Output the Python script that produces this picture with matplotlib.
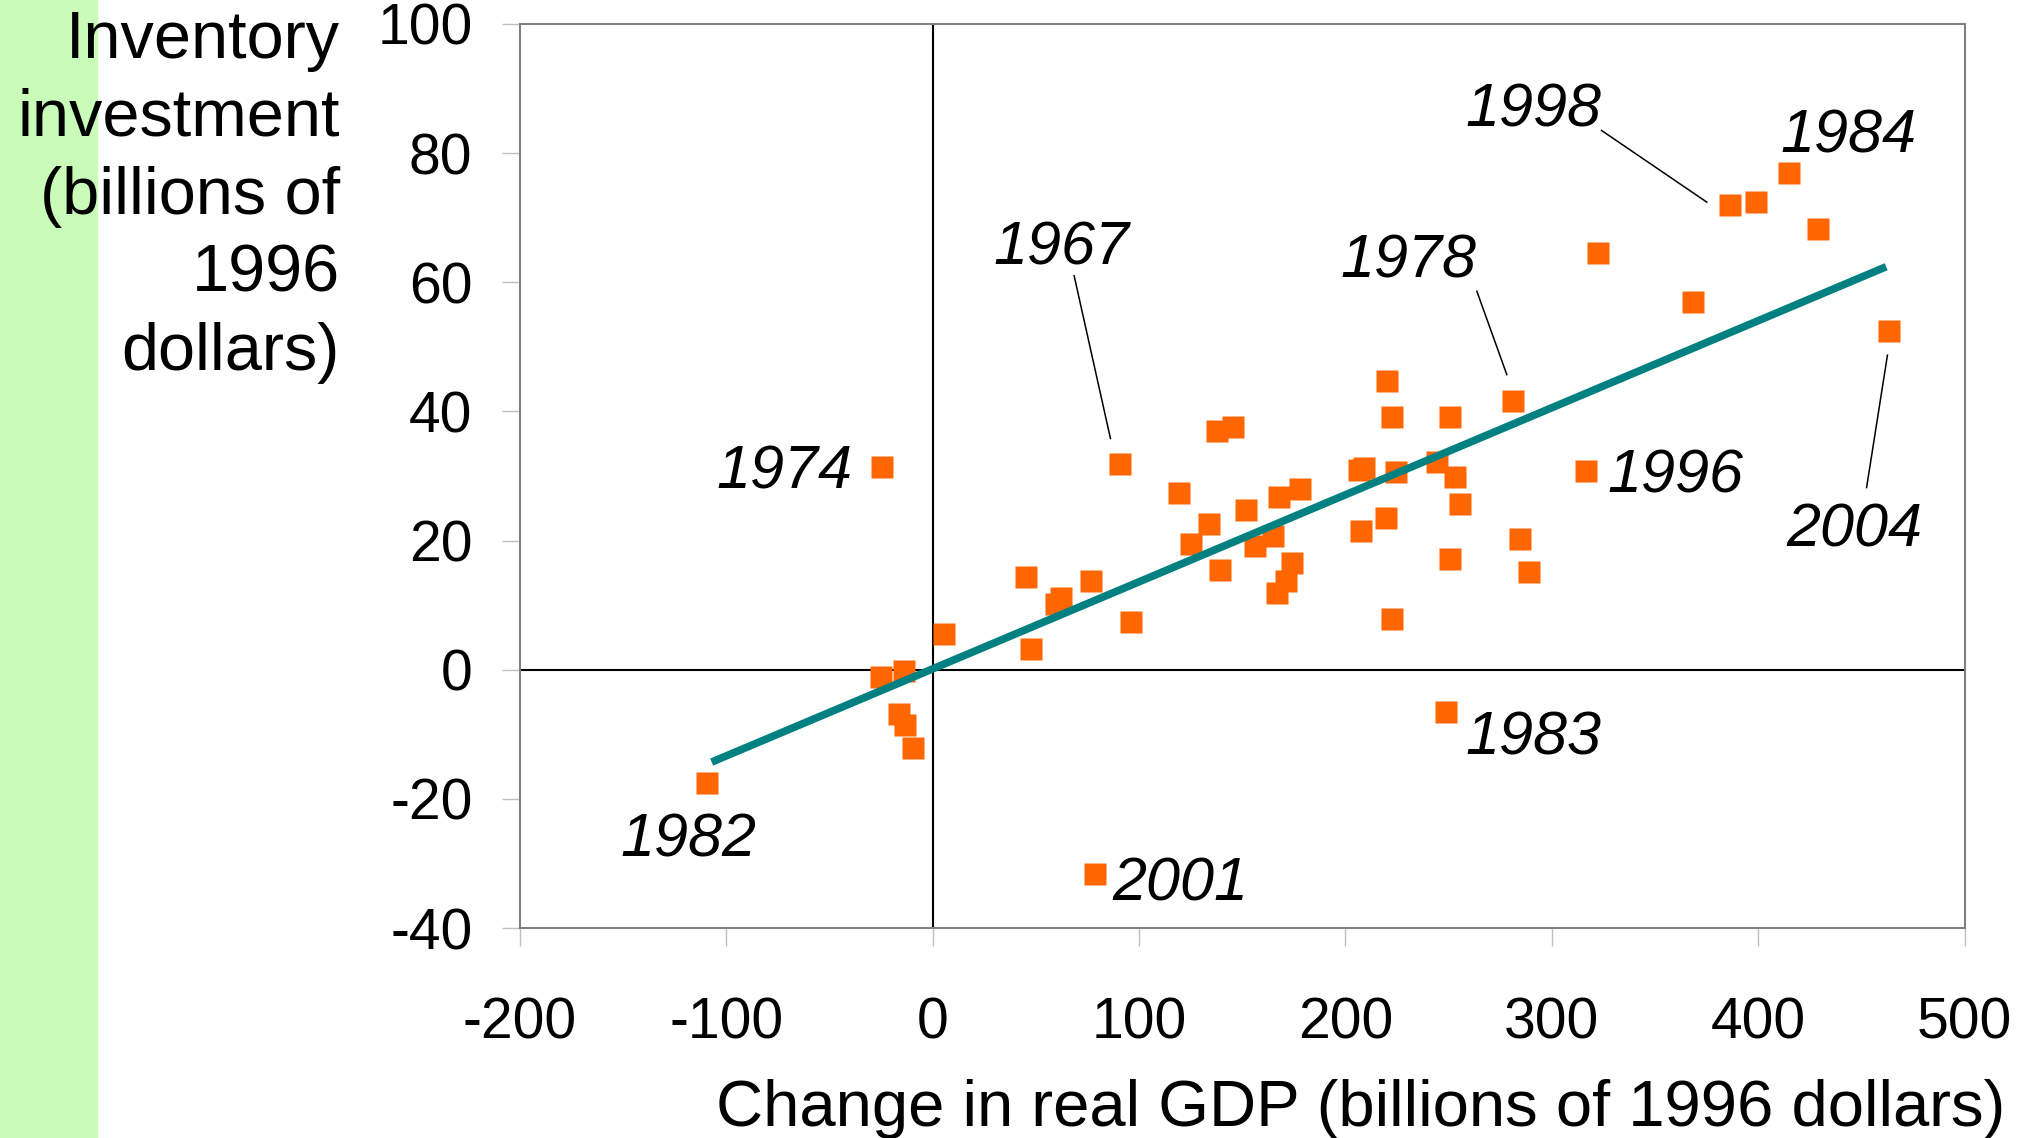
import matplotlib.pyplot as plt

plt.rcParams['font.family'] = ['Liberation Sans', 'DejaVu Sans']
plt.rcParams['axes.unicode_minus'] = False

# change in real GDP (x) and inventory investment (y), billions of 1996 dollars
gdp_change = [-24.5, 90.6, -109.5, 78.7, 248.6, 386.4, 399.0, 414.7, 429.2, 322.2,
              368.2, 463.2, 281.3, 220.3, 222.8, 250.5, 316.6, 206.4, 209.0, 224.7,
              244.2, 253.0, 255.5, 207.7, 219.6, 250.5, 284.5, 288.9, 222.8, 137.8,
              145.4, 119.6, 125.2, 134.0, 151.7, 139.1, 156.0, 164.9, 168.0, 178.1,
              174.3, 171.2, 166.8, 45.3, 62.3, 59.8, 76.8, 96.3, 47.8, 5.7,
              -25.2, -13.8, -16.4, -13.2, -9.4]
inv_invest = [31.4, 31.8, -17.5, -31.6, -6.6, 72.0, 72.4, 76.9, 68.2, 64.6,
              56.9, 52.5, 41.6, 44.7, 39.2, 39.2, 30.8, 31.0, 31.2, 30.6,
              32.2, 29.8, 25.6, 21.5, 23.5, 17.1, 20.3, 15.1, 7.8, 37.0,
              37.6, 27.4, 19.5, 22.5, 24.7, 15.5, 19.1, 20.7, 26.8, 28.0,
              16.5, 13.7, 11.9, 14.3, 11.1, 10.1, 13.7, 7.4, 3.2, 5.6,
              -1.2, -0.2, -6.8, -8.5, -12.1]

# fitted line end points
trend_x = [-107, 462]
trend_y = [-14.3, 62.4]

# year labels: text, x, baseline y
years = ['1998', '1984', '1967', '1978', '1974', '1996', '2004', '1983', '1982', '2001']
year_x = [291.2, 443.7, 62.3, 230.7, -71.7, 360.0, 446.8, 291.2, -118.3, 120.2]
year_y = [84.1, 80.1, 62.8, 60.8, 28.0, 27.4, 19.1, -13.1, -29.0, -35.8]

# leader lines: (x0, y0, x1, y1)
leaders = [(324.1, 83.5, 375.1, 72.4),
           (68.6, 61.0, 86.2, 35.8),
           (263.7, 58.6, 278.2, 45.7),
           (452.5, 28.2, 462.6, 48.7)]

xticks = [-200, -100, 0, 100, 200, 300, 400, 500]
yticks = [-40, -20, 0, 20, 40, 60, 80, 100]

fig = plt.figure(figsize=(20.38, 11.38), dpi=100)
fig.patches.append(plt.Rectangle((0, 0), 97 / 2038, 1, transform=fig.transFigure,
                                 color='#c8fcb8', zorder=0))
ax = fig.add_axes([0.255, 0.1845, 0.709, 0.7945])

ax.axhline(0, color='black', lw=1.5, zorder=1)
ax.axvline(0, color='black', lw=1.5, zorder=1)
ax.plot(gdp_change, inv_invest, 's', color='#ff6600', ms=16.5, mec='none', zorder=2)
ax.plot(trend_x, trend_y, color='#008080', lw=5.5, solid_capstyle='butt', zorder=3)

for x0, y0, x1, y1 in leaders:
    ax.plot([x0, x1], [y0, y1], color='black', lw=1.1, zorder=2)
for t, x, y in zip(years, year_x, year_y):
    ax.text(x, y, t, fontsize=44, style='italic', ha='center', va='baseline')

ax.set_xlim(-200, 500)
ax.set_ylim(-40, 100)
ax.set_xticks(xticks)
ax.set_yticks(yticks)
ax.tick_params(axis='both', direction='out', length=13, width=1, color='#c0c0c0',
               labelsize=41)
ax.tick_params(axis='y', pad=21)
ax.tick_params(axis='x', pad=36)
for s in ax.spines.values():
    s.set_color('#808080')
    s.set_linewidth(1.5)

ylab = ['Inventory', 'investment', '(billions of', '1996', 'dollars)']
for i, line in enumerate(ylab):
    fig.text(340 / 2038, 1 - (58 + 78 * i) / 1138, line, fontsize=48,
             ha='right', va='baseline')
fig.text(2005 / 2038, 1 - 1126 / 1138, 'Change in real GDP (billions of 1996 dollars)',
         fontsize=47, ha='right', va='baseline')

fig.savefig('out.png', dpi=100)
